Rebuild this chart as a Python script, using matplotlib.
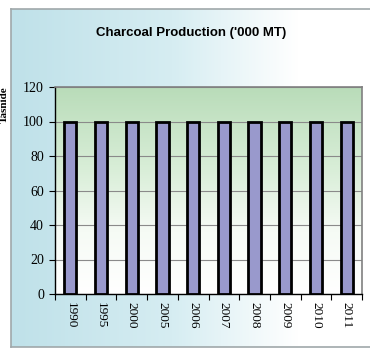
import matplotlib
matplotlib.use("Agg")
import matplotlib.pyplot as plt
import numpy as np
from matplotlib.colors import LinearSegmentedColormap

years = ["1990", "1995", "2000", "2005", "2006", "2007", "2008", "2009", "2010", "2011"]
values = [100, 100, 100, 100, 100, 100, 100, 100, 100, 100]
title = "Charcoal Production ('000 MT)"
ylabel = "Tasnide"
yticks = [0, 20, 40, 60, 80, 100, 120]

W, H = 370, 351
fig = plt.figure(figsize=(W / 100, H / 100), dpi=100)
fig.patch.set_facecolor("white")

# outer chart-area background gradient
bg = fig.add_axes([11 / W, (H - 347) / H, (W - 11) / W, (347 - 9) / H], zorder=0)
bg_cmap = LinearSegmentedColormap.from_list("bg", [(0, "#bfe1e9"), (0.45, "#d6edf2"), (0.8, "#ffffff"), (1, "#ffffff")])
grad = np.linspace(0, 1, 256).reshape(1, -1)
bg.imshow(grad, aspect="auto", cmap=bg_cmap, extent=[0, 1, 0, 1])
bg.set_xlim(0, 1)
bg.set_ylim(0, 1)
bg.set_xticks([])
bg.set_yticks([])
for s in ["left", "top", "bottom"]:
    bg.spines[s].set_color("#a0a8aa")
    bg.spines[s].set_linewidth(1.2)
bg.spines["right"].set_visible(False)

# plot area
x0, x1 = 55, 362
y_top, y_bot = 87, 294
ax = fig.add_axes([x0 / W, (H - y_bot) / H, (x1 - x0) / W, (y_bot - y_top) / H], zorder=1)
pa_cmap = LinearSegmentedColormap.from_list("pa", [(0, "#ffffff"), (0.3, "#f6fbf5"), (0.6, "#d9eed8"), (1, "#b9dcb9")])
vgrad = np.linspace(0, 1, 256).reshape(-1, 1)
n = len(years)
ax.imshow(vgrad, aspect="auto", cmap=pa_cmap, origin="lower",
          extent=[-0.5, n - 0.5, 0, 120], zorder=0)

x = np.arange(n)
ax.bar(x, values, width=0.4, color="#9999cc", edgecolor="black", linewidth=2.0, zorder=3)

ax.set_xlim(-0.5, n - 0.5)
ax.set_ylim(0, 120)
ax.set_yticks(yticks)
ax.set_yticklabels([str(v) for v in yticks], fontsize=10, family="Liberation Serif")
ax.yaxis.grid(True, color="#8a8a8a", linewidth=0.8, zorder=1)
ax.set_axisbelow(True)

ax.set_xticks(x)
ax.set_xticklabels(years, rotation=-90, fontsize=9.5, family="Liberation Serif")
ax.set_xticks(np.arange(n + 1) - 0.5, minor=True)
ax.tick_params(axis="x", which="major", length=0, pad=6)
ax.tick_params(axis="x", which="minor", length=4, color="black", width=0.8, direction="out")
ax.tick_params(axis="y", length=4, color="black", width=0.8, direction="out", pad=4)

ax.spines["left"].set_color("black")
ax.spines["bottom"].set_color("black")
ax.spines["left"].set_linewidth(1.0)
ax.spines["bottom"].set_linewidth(1.0)
ax.spines["top"].set_color("#808080")
ax.spines["right"].set_color("#808080")
ax.spines["top"].set_linewidth(1.2)
ax.spines["right"].set_linewidth(1.2)

fig.text(191 / W, 1 - 33 / H, title, ha="center", va="center", fontsize=9.5,
         fontweight="bold", family="Liberation Sans")
fig.text(4 / W, 1 - 105 / H, ylabel, ha="center", va="center", rotation=90,
         fontsize=8, fontweight="bold", family="Liberation Serif")

fig.savefig("out.png", dpi=100, facecolor=fig.get_facecolor())
